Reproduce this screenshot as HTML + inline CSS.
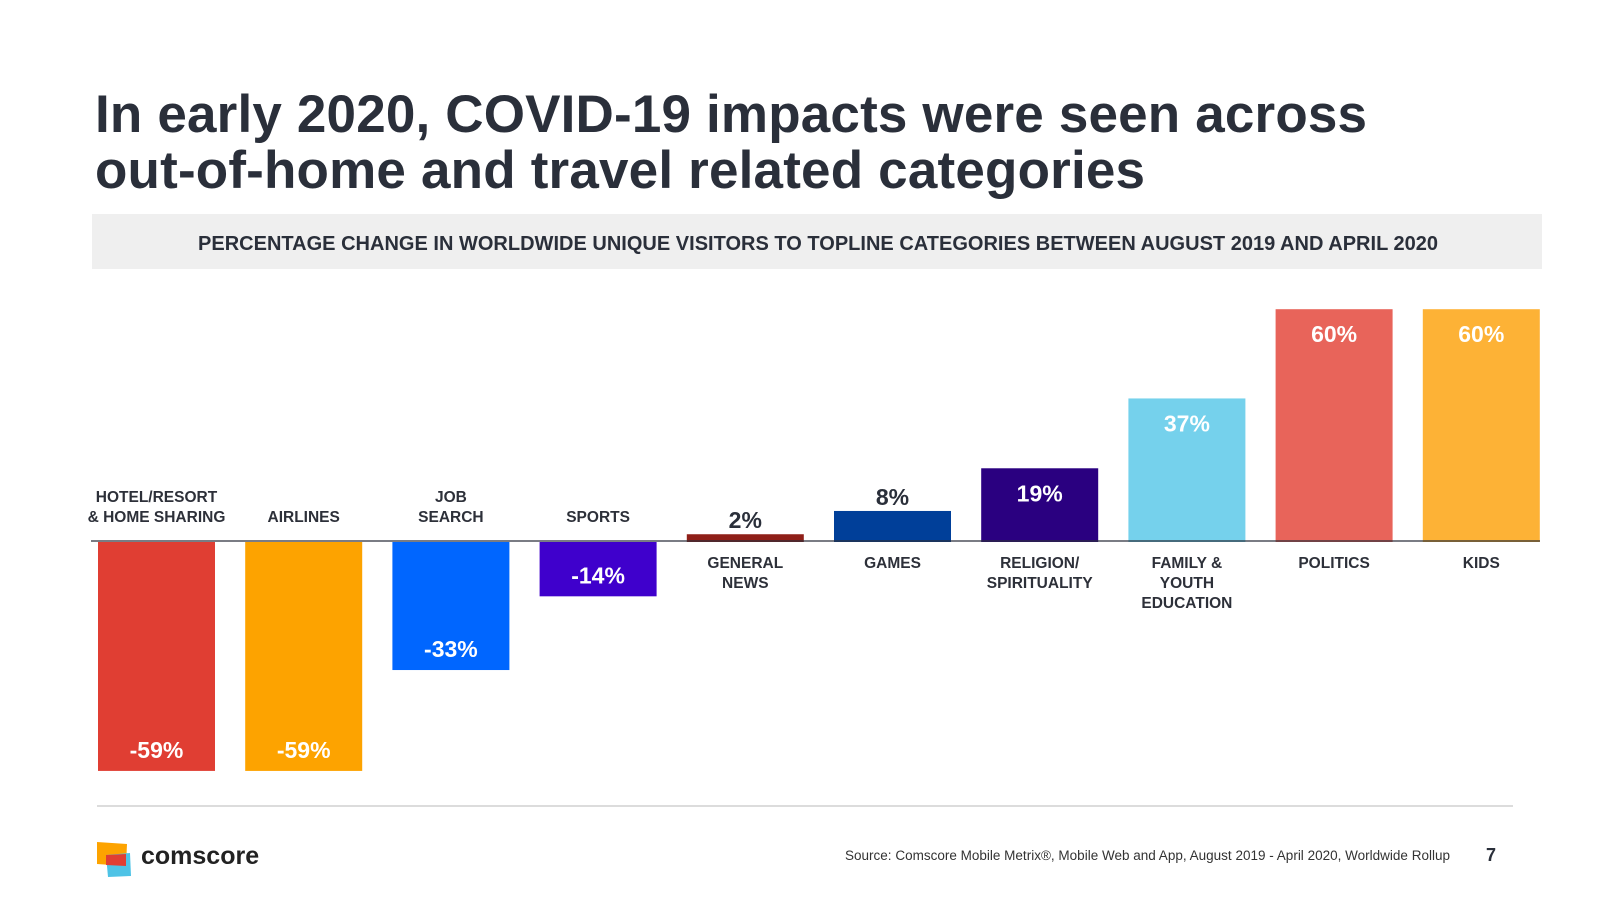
<!DOCTYPE html>
<html><head><meta charset="utf-8"><style>
body{margin:0;background:#fff;font-family:"Liberation Sans",Arial,sans-serif;}
svg{display:block}
</style></head><body>
<svg width="1600" height="900" viewBox="0 0 1600 900">
<text x="95" y="132" font-size="53" font-weight="bold" fill="#2a2f3a" textLength="1272">In early 2020, COVID-19 impacts were seen across</text>
<text x="95" y="188" font-size="53" font-weight="bold" fill="#2a2f3a" textLength="1050">out-of-home and travel related categories</text>
<rect x="92" y="214" width="1450" height="55" fill="#efefef"/>
<text x="818" y="250" font-size="20" font-weight="bold" fill="#2a2f3a" text-anchor="middle" textLength="1240">PERCENTAGE CHANGE IN WORLDWIDE UNIQUE VISITORS TO TOPLINE CATEGORIES BETWEEN AUGUST 2019 AND APRIL 2020</text>
<g id="chart"></g>
<line x1="97" y1="806" x2="1513" y2="806" stroke="#d0d0d0" stroke-width="1.5"/>
<g>
<polygon points="97,842 127,844 126,866 97,864" fill="#fda300"/>
<polygon points="106,855 130,853 131,876 108,877" fill="#4ec3e6"/>
<polygon points="106,855 126,854 126,866 106,865" fill="#e03e33"/>
<text x="141" y="864" font-size="25" font-weight="bold" fill="#222">comscore</text>
</g>
<text x="845" y="860" font-size="13.5" fill="#333" textLength="605">Source: Comscore Mobile Metrix®, Mobile Web and App, August 2019 - April 2020, Worldwide Rollup</text>
<text x="1486" y="861" font-size="18" font-weight="bold" fill="#2a2f3a">7</text>
</svg>
<script>
const categories=[["HOTEL/RESORT","& HOME SHARING"],["AIRLINES"],["JOB","SEARCH"],["SPORTS"],["GENERAL","NEWS"],["GAMES"],["RELIGION/","SPIRITUALITY"],["FAMILY &","YOUTH","EDUCATION"],["POLITICS"],["KIDS"]];
const values=[-59,-59,-33,-14,2,8,19,37,60,60];
const valueLabels=["-59%","-59%","-33%","-14%","2%","8%","19%","37%","60%","60%"];
const colors=["#e03e33","#fda300","#0066ff","#3f00cc","#8f1f18","#003f99","#2a0080","#75d1ec","#e8645a","#fdb236"];
const NS="http://www.w3.org/2000/svg";
const g=document.getElementById('chart');
const zeroY=542, pxPer=3.88;
function yScale(v){return zeroY-v*pxPer;}
function xScale(i){return 98+147.2*i;}
const bw=117;
function mk(tag,attrs){const e=document.createElementNS(NS,tag);for(const k in attrs)e.setAttribute(k,attrs[k]);g.appendChild(e);return e;}
values.forEach((v,i)=>{
  const x=xScale(i);
  const y0=yScale(Math.max(v,0)), y1=yScale(Math.min(v,0));
  const r=mk('rect',{x:x,y:Math.min(y0,y1),width:bw,height:Math.max(Math.abs(y1-y0),1),fill:colors[i]});
  
  
  const cx=x+bw/2;
  let ty,fill;
  const inside=Math.abs(v)>=12;
  if(v<0){ty=inside?yScale(v)-13:yScale(v)+24;fill=inside?'#fff':'#2a2f3a';}
  else{ty=inside?yScale(v)+33:yScale(v)-6;fill=inside?'#fff':'#2a2f3a';}
  const t=mk('text',{x:cx,y:ty,'text-anchor':'middle','font-size':23,'font-weight':'bold',fill:fill});
  t.textContent=valueLabels[i];
  
  
  const lines=categories[i];
  lines.forEach((ln,j)=>{
    let ly;
    if(v<0){ly=522-(lines.length-1-j)*20;}else{ly=568+j*20;}
    const c=mk('text',{x:cx,y:ly,'text-anchor':'middle','font-size':15.5,'font-weight':'bold',fill:'#2d3039'});
    c.textContent=ln;
    
    
  });
});
const ax=mk('line',{x1:91,y1:541,x2:1540,y2:541,stroke:'#2a2f3a','stroke-width':1.3});


</script>
</body></html>
